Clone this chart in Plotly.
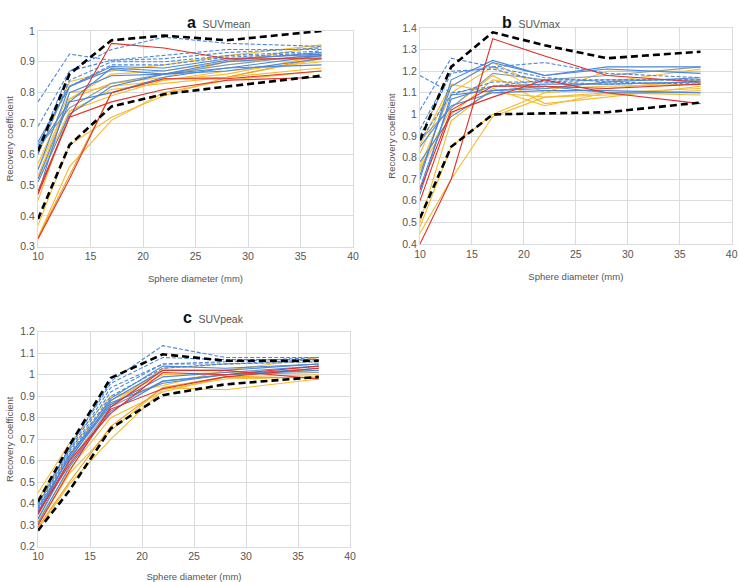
import plotly.graph_objects as go

diameters = [10, 13, 17, 22, 28, 37]

# ---- panel a: SUVmean ----
mean_black = [
    [0.61, 0.86, 0.97, 0.985, 0.97, 1.0],
    [0.39, 0.63, 0.755, 0.795, 0.82, 0.855],
]
mean_red = [
    [0.48, 0.72, 0.96, 0.945, 0.91, 0.91],
    [0.325, 0.52, 0.80, 0.845, 0.845, 0.87],
    [0.47, 0.72, 0.77, 0.81, 0.84, 0.85],
]
mean_blue_dash = [
    [0.77, 0.925, 0.905, 0.92, 0.94, 0.94],
    [0.69, 0.87, 0.94, 0.98, 0.96, 0.95],
    [0.62, 0.87, 0.905, 0.91, 0.93, 0.945],
    [0.60, 0.84, 0.90, 0.90, 0.92, 0.935],
    [0.63, 0.82, 0.89, 0.89, 0.915, 0.93],
]
mean_blue = [
    [0.64, 0.82, 0.885, 0.88, 0.91, 0.925],
    [0.52, 0.77, 0.88, 0.87, 0.905, 0.93],
    [0.47, 0.80, 0.855, 0.86, 0.90, 0.92],
    [0.55, 0.82, 0.875, 0.86, 0.88, 0.89],
    [0.51, 0.73, 0.82, 0.86, 0.87, 0.91],
    [0.62, 0.77, 0.80, 0.85, 0.88, 0.92],
]
mean_gray = [
    [0.62, 0.75, 0.83, 0.86, 0.89, 0.925],
]
mean_yellow = [
    [0.60, 0.835, 0.87, 0.89, 0.92, 0.955],
    [0.55, 0.78, 0.86, 0.87, 0.90, 0.95],
    [0.53, 0.78, 0.83, 0.85, 0.90, 0.915],
    [0.57, 0.80, 0.82, 0.84, 0.87, 0.90],
    [0.37, 0.63, 0.72, 0.79, 0.85, 0.88],
    [0.33, 0.56, 0.71, 0.80, 0.84, 0.87],
    [0.45, 0.74, 0.79, 0.84, 0.86, 0.92],
    [0.52, 0.74, 0.81, 0.83, 0.85, 0.91],
]
mean_orange = [
    [0.33, 0.53, 0.80, 0.845, 0.85, 0.915],
]

# ---- panel b: SUVmax ----
max_black = [
    [0.88, 1.22, 1.38, 1.32, 1.26, 1.29],
    [0.52, 0.85, 1.0, 1.005, 1.01, 1.055],
]
max_red = [
    [0.40, 0.70, 1.35, 1.27, 1.18, 1.15],
    [0.60, 1.01, 1.08, 1.16, 1.10, 1.05],
    [0.65, 1.02, 1.13, 1.13, 1.12, 1.14],
]
max_blue_dash = [
    [1.18, 1.10, 1.13, 1.16, 1.16, 1.16],
    [1.02, 1.26, 1.22, 1.24, 1.19, 1.17],
    [0.93, 1.20, 1.21, 1.15, 1.16, 1.16],
    [0.90, 1.19, 1.22, 1.17, 1.15, 1.14],
    [0.88, 1.09, 1.15, 1.15, 1.14, 1.15],
]
max_blue = [
    [0.70, 1.16, 1.25, 1.18, 1.22, 1.22],
    [0.72, 1.13, 1.24, 1.18, 1.21, 1.19],
    [0.63, 1.09, 1.11, 1.13, 1.10, 1.10],
    [0.66, 1.07, 1.13, 1.14, 1.14, 1.15],
    [0.85, 1.04, 1.10, 1.11, 1.11, 1.10],
    [0.78, 0.99, 1.11, 1.12, 1.15, 1.17],
]
max_gray = [
    [0.88, 1.03, 1.19, 1.16, 1.18, 1.22],
]
max_yellow = [
    [0.82, 1.13, 1.24, 1.12, 1.15, 1.21],
    [0.76, 1.10, 1.22, 1.10, 1.20, 1.20],
    [0.75, 1.03, 1.18, 1.05, 1.08, 1.13],
    [0.50, 0.97, 1.12, 1.04, 1.10, 1.12],
    [0.48, 0.85, 1.0, 1.10, 1.12, 1.16],
    [0.45, 0.70, 0.99, 1.08, 1.10, 1.09],
    [0.86, 1.14, 1.10, 1.08, 1.09, 1.11],
    [0.74, 1.00, 1.16, 1.12, 1.13, 1.14],
]
max_orange = []

# ---- panel c: SUVpeak ----
peak_black = [
    [0.41, 0.67, 0.985, 1.095, 1.065, 1.065],
    [0.275, 0.46, 0.75, 0.905, 0.955, 0.99],
]
peak_red = [
    [0.35, 0.60, 0.82, 1.01, 1.00, 1.04],
    [0.30, 0.55, 0.85, 1.02, 1.02, 0.98],
    [0.36, 0.58, 0.84, 0.935, 0.99, 1.03],
]
peak_blue_dash = [
    [0.40, 0.66, 0.97, 1.135, 1.08, 1.08],
    [0.39, 0.66, 0.96, 1.08, 1.07, 1.07],
    [0.38, 0.65, 0.94, 1.05, 1.06, 1.08],
    [0.37, 0.64, 0.92, 1.05, 1.05, 1.07],
    [0.36, 0.63, 0.90, 1.03, 1.05, 1.06],
]
peak_blue = [
    [0.36, 0.62, 0.89, 1.04, 1.03, 1.05],
    [0.33, 0.60, 0.88, 1.02, 1.02, 1.05],
    [0.38, 0.61, 0.86, 0.99, 1.01, 1.04],
    [0.31, 0.57, 0.83, 0.97, 1.00, 1.02],
    [0.35, 0.62, 0.87, 0.96, 1.00, 1.03],
]
peak_gray = [
    [0.33, 0.59, 0.85, 0.97, 1.00, 1.01],
]
peak_yellow = [
    [0.45, 0.68, 0.90, 0.95, 1.02, 1.08],
    [0.42, 0.65, 0.88, 1.00, 1.01, 1.02],
    [0.30, 0.54, 0.74, 0.94, 0.93, 0.98],
    [0.28, 0.49, 0.70, 0.93, 0.98, 0.99],
    [0.32, 0.56, 0.80, 0.92, 0.99, 1.00],
    [0.40, 0.63, 0.86, 1.03, 1.05, 1.06],
]
peak_orange = [
    [0.29, 0.50, 0.76, 0.94, 0.99, 0.985],
]

panels = [
    dict(letter="a", name="SUVmean", xa="x", ya="y",
         groups=[mean_yellow, mean_orange, mean_gray, mean_blue, mean_blue_dash, mean_red, mean_black]),
    dict(letter="b", name="SUVmax", xa="x2", ya="y2",
         groups=[max_yellow, max_orange, max_gray, max_blue, max_blue_dash, max_red, max_black]),
    dict(letter="c", name="SUVpeak", xa="x3", ya="y3",
         groups=[peak_yellow, peak_orange, peak_gray, peak_blue, peak_blue_dash, peak_red, peak_black]),
]

styles = [
    dict(color="#f6bb2f", width=1.1, dash="solid"),
    dict(color="#f19a1c", width=1.1, dash="solid"),
    dict(color="#8c9ba6", width=1.1, dash="solid"),
    dict(color="#4a87d9", width=1.1, dash="solid"),
    dict(color="#4a87d9", width=1.1, dash="4px,2px"),
    dict(color="#e0312b", width=1.1, dash="solid"),
    dict(color="#000000", width=2.6, dash="7px,4px"),
]

fig = go.Figure()
for p in panels:
    for series, st in zip(p["groups"], styles):
        for vals in series:
            fig.add_trace(go.Scatter(
                x=diameters, y=vals, mode="lines",
                line=dict(color=st["color"], width=st["width"], dash=st["dash"]),
                xaxis=p["xa"], yaxis=p["ya"], showlegend=False, hoverinfo="skip",
            ))

W, H = 739, 582
grid = "#d8dcdf"
tickfont = dict(family="Liberation Sans, Arial", size=10.5, color="#555555")
titlefont = dict(family="Liberation Sans, Arial", size=9.5, color="#555555")


def xax(l, r):
    return dict(domain=[l / W, r / W], range=[10, 40], dtick=5, showgrid=True,
                gridcolor=grid, gridwidth=1, showline=True, linecolor=grid, mirror=True,
                zeroline=False, ticks="", tickfont=tickfont, automargin=False,
                title=dict(text="Sphere diameter (mm)", font=titlefont, standoff=14))


def yax(top, bottom, lo, hi, anchor):
    return dict(domain=[1 - bottom / H, 1 - top / H], range=[lo, hi], dtick=0.1,
                showgrid=True, gridcolor=grid, gridwidth=1, showline=True, linecolor=grid,
                mirror=True, zeroline=False, ticks="", tickfont=tickfont, anchor=anchor,
                automargin=False,
                title=dict(text="Recovery coefficient", font=titlefont, standoff=4))


fig.update_layout(
    width=W, height=H, margin=dict(l=0, r=0, t=0, b=0),
    paper_bgcolor="white", plot_bgcolor="white",
    xaxis=dict(xax(38, 353), anchor="y"),
    yaxis=yax(31, 246.7, 0.3, 1.0, "x"),
    xaxis2=dict(xax(420, 731.7), anchor="y2"),
    yaxis2=yax(28, 244, 0.4, 1.4, "x2"),
    xaxis3=dict(xax(38, 350), anchor="y3"),
    yaxis3=yax(331.7, 546.7, 0.2, 1.2, "x3"),
)

title_pos = [(185, 12), (563, 12), (181, 317)]
for p, (tx, ty) in zip(panels, title_pos):
    fig.add_annotation(
        x=tx / W, y=1 - ty / H, xref="paper", yref="paper", showarrow=False,
        text=f"<b><span style='font-size:16px;color:#111'>{p['letter']}</span></b>"
             f"  <span style='font-size:10.5px;color:#555'>{p['name']}</span>",
        font=dict(family="Liberation Sans, Arial"),
    )

# drop the default body margin so the figure sits flush in the window
fig.write_html("out.html", config={"displayModeBar": False},
               post_script="document.body.style.margin='0';")
